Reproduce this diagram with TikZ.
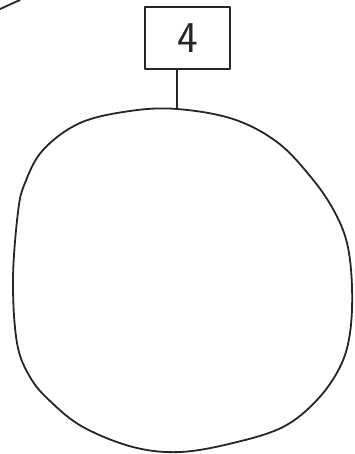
\documentclass[tikz,border=0pt]{standalone}
\usetikzlibrary{calc}
\begin{document}
\begin{tikzpicture}[x=1pt,y=-1pt,
  ink/.style={line width=1.8pt,line cap=round,line join=round,black!85},
  labelbox/.style={draw,ink,minimum width=85pt,minimum height=62pt,inner sep=0pt,
    font=\sffamily\fontsize{44}{44}\selectfont}]
\useasboundingbox (0,0) rectangle (354,454);
\node[labelbox] (box) at (187.5,38) {4};
\coordinate (blobtop) at (177,109);
\draw[ink] plot[smooth cycle,tension=0.6] coordinates {
  (177,109) (233,119) (277,142) (310,176) (333,209) (347,243) (352,287)
  (350,333) (340,367) (317,400) (283,427) (233,443) (180,452) (133,447)
  (83,427) (50,401) (30,377) (17,343) (13,280) (18,212) (25,183) (43,150) (80,123) (130,111)};
\draw[ink] (box.south -| blobtop) -- (blobtop);
\draw[ink] (0,9) .. controls (7,6) and (13,3) .. (20,0);
\end{tikzpicture}
\end{document}
